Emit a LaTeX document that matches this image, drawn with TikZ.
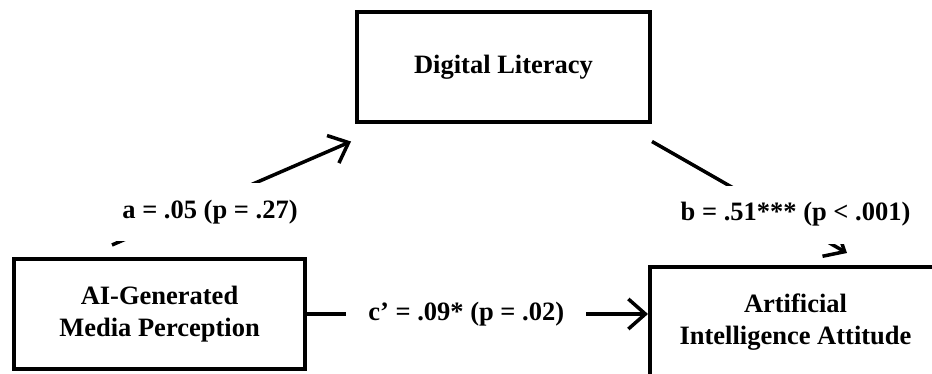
\documentclass[tikz,border=0pt]{standalone}
\usepackage{fontspec}
\setmainfont{Liberation Serif}
\usetikzlibrary{arrows.meta}

\begin{document}
\begin{tikzpicture}[
    x=1pt, y=1pt,
    every node/.style={draw, line width=4pt, minimum width=291pt, minimum height=110pt, align=center, font=\bfseries\fontsize{26.5}{32}\selectfont},
    arrow/.style={-{Straight Barb[length=17pt, width=30pt]}, line width=3.5pt},
    coef/.style={draw=none, fill=white, minimum width=0pt, minimum height=0pt, inner xsep=22pt, inner ysep=17pt}
]
\useasboundingbox (0,0) rectangle (932,374);
\clip (0,0) rectangle (932,374);

% Variables
\node (dl) at (503.5, 306.5) [minimum width=293pt] {Digital Literacy};
\node (aigm) at (159.5, 60) {AI-Generated\\Media Perception};
\node (aia) at (795.5, 52) {Artificial\\Intelligence Attitude};

% Paths with coefficients
\draw[arrow] ([shift={(-47.5,12)}]aigm.north) -- node[coef, pos=0.41, yshift=-9.5pt] {a = .05 (p = .27)} ([shift={(-4,-17)}]dl.south west);
\draw[arrow] ([shift={(0,-17)}]dl.south east) -- node[coef, pos=0.736, yshift=9pt] {b = .51*** (p < .001)} ([shift={(51.5,12)}]aia.north);
\draw[arrow] (aigm.east) -- node[coef, pos=0.467] {c’ = .09* (p = .02)} (aigm.east -| aia.west);

\end{tikzpicture}
\end{document}
